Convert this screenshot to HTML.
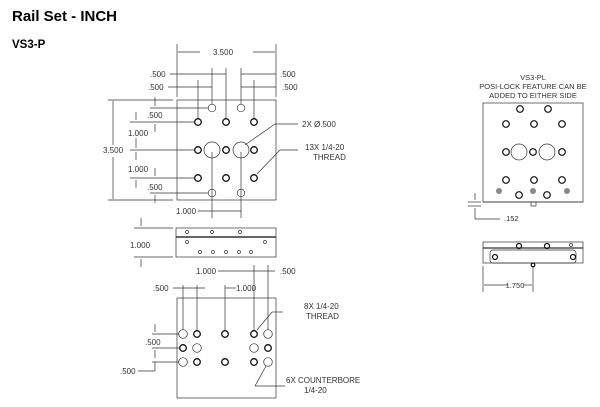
<!DOCTYPE html>
<html><head><style>body{margin:0;background:#fff}svg{display:block}</style></head><body>
<svg width="600" height="407" viewBox="0 0 600 407" xmlns="http://www.w3.org/2000/svg" font-family="Liberation Sans, sans-serif">
<text x="12" y="21" font-size="15" font-weight="bold">Rail Set - INCH</text>
<text x="12" y="48" font-size="11.5" font-weight="bold">VS3-P</text>
<g stroke="#333" stroke-width="0.7" fill="none">
<!-- top view -->
<rect x="177" y="100" width="99" height="100"/>
<line x1="177" y1="44" x2="177" y2="97"/><line x1="276" y1="44" x2="276" y2="97"/>
<line x1="178" y1="52" x2="200" y2="52"/><line x1="253" y1="52" x2="275" y2="52"/>
<line x1="198" y1="80" x2="198" y2="118"/><line x1="212" y1="68" x2="212" y2="104"/><line x1="226" y1="68" x2="226" y2="118"/><line x1="241" y1="68" x2="241" y2="104"/><line x1="254" y1="80" x2="254" y2="118"/>
<line x1="170" y1="74" x2="226" y2="74"/><line x1="241" y1="74" x2="276" y2="74"/>
<line x1="168" y1="87" x2="212" y2="87"/><line x1="241" y1="87" x2="276" y2="87"/>
<line x1="113" y1="101" x2="113" y2="145"/><line x1="113" y1="157" x2="113" y2="199"/>
<line x1="108" y1="100" x2="173" y2="100"/><line x1="108" y1="200" x2="173" y2="200"/>
<line x1="150" y1="108" x2="208" y2="108"/><line x1="130" y1="122" x2="194" y2="122"/><line x1="130" y1="150" x2="194" y2="150"/><line x1="130" y1="178" x2="194" y2="178"/><line x1="150" y1="193" x2="208" y2="193"/>
<line x1="155" y1="97" x2="155" y2="106"/><line x1="155" y1="124" x2="155" y2="132"/><line x1="136" y1="112" x2="136" y2="120"/><line x1="136" y1="138" x2="136" y2="148"/><line x1="136" y1="152" x2="136" y2="160"/><line x1="155" y1="168" x2="155" y2="176"/><line x1="136" y1="180" x2="136" y2="188"/><line x1="155" y1="195" x2="155" y2="203"/>
<line x1="212" y1="152" x2="212" y2="218"/><line x1="241" y1="152" x2="241" y2="218"/><line x1="198" y1="211" x2="241" y2="211"/>
<line x1="245" y1="145" x2="275" y2="124"/><line x1="275" y1="124" x2="298" y2="124"/>
<line x1="257" y1="174" x2="280" y2="150"/><line x1="280" y1="150" x2="298" y2="150"/>
<circle cx="212" cy="108" r="3.8"/><circle cx="241" cy="108" r="3.8"/>
<circle cx="212" cy="193" r="3.8"/><circle cx="241" cy="193" r="3.8"/>
<circle cx="212" cy="150" r="8"/><circle cx="241" cy="150" r="8"/>
</g>
<g stroke="#111" stroke-width="1.3" fill="none">
<circle cx="198" cy="122" r="3.3"/><circle cx="226" cy="122" r="3.3"/><circle cx="254" cy="122" r="3.3"/>
<circle cx="198" cy="150" r="3.3"/><circle cx="226" cy="150" r="3.3"/><circle cx="254" cy="150" r="3.3"/>
<circle cx="198" cy="178" r="3.3"/><circle cx="226" cy="178" r="3.3"/><circle cx="254" cy="178" r="3.3"/>
</g>
<g font-size="8" fill="#333">
<text x="213" y="55">3.500</text>
<text x="150" y="77">.500</text><text x="280" y="77">.500</text>
<text x="148" y="90">.500</text><text x="282" y="90">.500</text>
<text x="147" y="118">.500</text><text x="127" y="97" font-size="0"> </text>
<text x="128" y="136">1.000</text><text x="103" y="153">3.500</text>
<text x="128" y="172">1.000</text><text x="147" y="190">.500</text>
<text x="176" y="214">1.000</text>
<text x="302" y="127">2X Ø.500</text>
<text x="305" y="150">13X 1/4-20</text><text x="313" y="160">THREAD</text>
</g>
<!-- side view -->
<g stroke="#333" stroke-width="0.7" fill="none">
<rect x="176" y="228" width="100" height="29"/>
<line x1="176" y1="237" x2="276" y2="237" stroke-width="1.5"/>
<line x1="134" y1="228" x2="173" y2="228"/><line x1="134" y1="257" x2="173" y2="257"/>
<line x1="141" y1="218" x2="141" y2="226"/><line x1="141" y1="259" x2="141" y2="267"/>
<circle cx="187" cy="232" r="1.5"/><circle cx="212" cy="232" r="1.5"/><circle cx="240" cy="232" r="1.5"/>
<circle cx="187" cy="242" r="1.5"/><circle cx="265" cy="242" r="1.5"/>
<circle cx="200" cy="252" r="1.5"/><circle cx="213" cy="252" r="1.5"/><circle cx="226" cy="252" r="1.5"/><circle cx="239" cy="252" r="1.5"/><circle cx="251" cy="252" r="1.5"/>
<!-- bottom view -->
<rect x="177" y="298" width="99" height="100"/>
<line x1="183" y1="285" x2="183" y2="330"/><line x1="197" y1="285" x2="197" y2="330"/><line x1="225" y1="285" x2="225" y2="330"/><line x1="254" y1="265" x2="254" y2="330"/><line x1="268" y1="265" x2="268" y2="330"/>
<line x1="218" y1="271" x2="275" y2="271"/><line x1="173" y1="288" x2="205" y2="288"/><line x1="225" y1="288" x2="236" y2="288"/>
<line x1="152" y1="334" x2="179" y2="334"/><line x1="152" y1="348" x2="179" y2="348"/><line x1="152" y1="362" x2="179" y2="362"/><line x1="155" y1="362" x2="155" y2="371"/><line x1="138" y1="371" x2="155" y2="371"/>
<line x1="155" y1="324" x2="155" y2="332"/><line x1="155" y1="350" x2="155" y2="358"/>
<line x1="257" y1="330" x2="272" y2="312"/><line x1="272" y1="312" x2="283" y2="312"/>
<line x1="266" y1="366" x2="255" y2="386"/><line x1="255" y1="386" x2="285" y2="386"/>
<circle cx="183" cy="334" r="4.3"/><circle cx="268" cy="334" r="4.3"/><circle cx="197" cy="348" r="4.3"/><circle cx="254" cy="348" r="4.3"/><circle cx="183" cy="362" r="4.3"/><circle cx="268" cy="362" r="4.3"/>
</g>
<g stroke="#111" stroke-width="1.3" fill="none">
<circle cx="197" cy="334" r="3.3"/><circle cx="225" cy="334" r="3.3"/><circle cx="254" cy="334" r="3.3"/>
<circle cx="183" cy="348" r="3.3"/><circle cx="268" cy="348" r="3.3"/>
<circle cx="197" cy="362" r="3.3"/><circle cx="225" cy="362" r="3.3"/><circle cx="254" cy="362" r="3.3"/>
</g>
<g font-size="8" fill="#333">
<text x="130" y="248">1.000</text>
<text x="196" y="274">1.000</text><text x="280" y="274">.500</text>
<text x="153" y="291">.500</text><text x="236" y="291">1.000</text>
<text x="145" y="345">.500</text><text x="120" y="374">.500</text>
<text x="304" y="309">8X 1/4-20</text><text x="306" y="319">THREAD</text>
<text x="286" y="383">6X COUNTERBORE</text><text x="304" y="393">1/4-20</text>
</g>
<!-- right view -->
<g font-size="7.5" fill="#333" text-anchor="middle">
<text x="533" y="80">VS3-PL</text>
<text x="533" y="89">POSI-LOCK FEATURE CAN BE</text>
<text x="533" y="98">ADDED TO EITHER SIDE</text>
<text x="504" y="221" text-anchor="start">.152</text>
<text x="515" y="288">1.750</text>
</g>
<g stroke="#333" stroke-width="0.7" fill="none">
<rect x="483" y="103" width="100" height="99"/>
<line x1="483" y1="202" x2="583" y2="202"/>
<rect x="531" y="202" width="5" height="4"/>
<line x1="468" y1="202" x2="481" y2="202"/><line x1="468" y1="206" x2="481" y2="206"/>
<line x1="475" y1="193" x2="475" y2="200"/><line x1="475" y1="208" x2="475" y2="219"/><line x1="475" y1="219" x2="500" y2="219"/>
<circle cx="519" cy="152" r="8"/><circle cx="547" cy="152" r="8"/>
<rect x="483" y="242" width="100" height="21"/>
<line x1="483" y1="248" x2="583" y2="248" stroke-width="1.3"/>
<rect x="490" y="250" width="86" height="13" rx="3"/>
<line x1="483" y1="266" x2="483" y2="292"/><line x1="533" y1="266" x2="533" y2="292"/>
<line x1="484" y1="285" x2="508" y2="285"/><line x1="524" y1="285" x2="532" y2="285"/>
</g>
<g stroke="#111" stroke-width="1.2" fill="none">
<circle cx="520" cy="109" r="3.3"/><circle cx="548" cy="109" r="3.3"/>
<circle cx="506" cy="124" r="3.3"/><circle cx="534" cy="124" r="3.3"/><circle cx="562" cy="124" r="3.3"/>
<circle cx="506" cy="152" r="3.3"/><circle cx="533" cy="152" r="3.3"/><circle cx="562" cy="152" r="3.3"/>
<circle cx="506" cy="180" r="3.3"/><circle cx="534" cy="180" r="3.3"/><circle cx="562" cy="180" r="3.3"/>
<circle cx="519" cy="195" r="3.3"/><circle cx="547" cy="195" r="3.3"/>
<circle cx="519" cy="246" r="2.5"/><circle cx="547" cy="246" r="2.5"/><circle cx="495" cy="257" r="2.5"/><circle cx="573" cy="257" r="2.5"/><circle cx="533" cy="265" r="1.8"/>
</g>
<g fill="#888"><circle cx="499" cy="191" r="3"/><circle cx="533" cy="191" r="3"/><circle cx="567" cy="191" r="3"/></g>
<circle cx="571" cy="245" r="1.5" fill="none" stroke="#333" stroke-width="0.8"/>
</svg>
</body></html>
